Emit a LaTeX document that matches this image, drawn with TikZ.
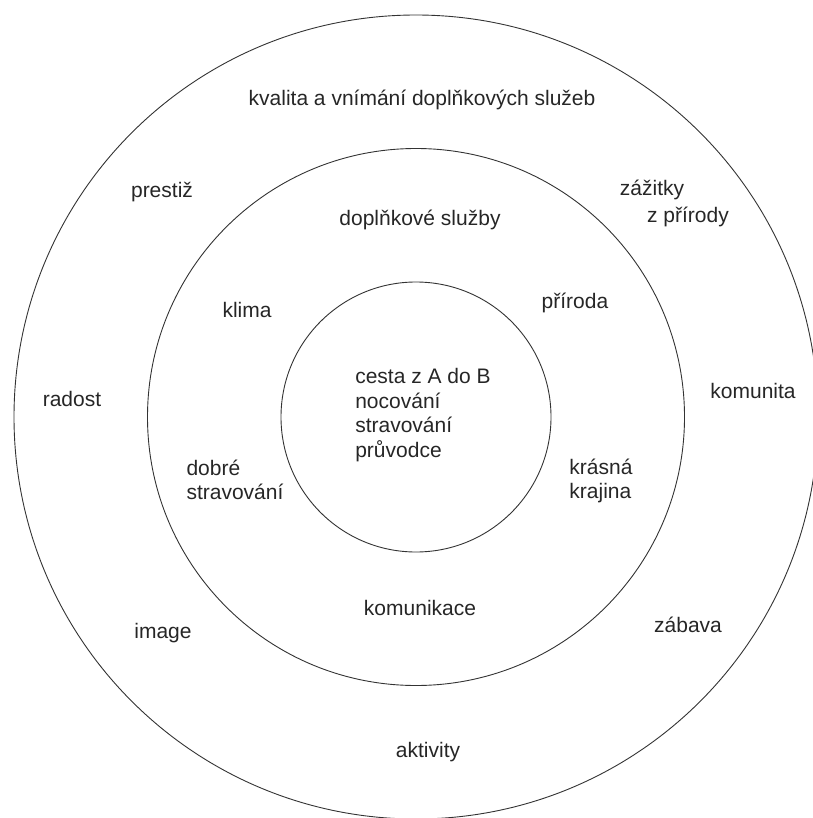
\documentclass[tikz,border=0pt]{standalone}
\usepackage{fontspec}
\setmainfont{Liberation Sans}
\begin{document}
\begin{tikzpicture}[x=1pt,y=-1pt,
    ring/.style={draw=black!80, line width=0.9pt},
    lbl/.style={text=black!85, inner sep=0pt, font=\fontsize{21}{24.5}\selectfont},
    lbll/.style={lbl, align=left}]
    \useasboundingbox (0,0) rectangle (812,818);

    %circles
    \coordinate (c) at (416,417);
    \draw[ring] (c) circle (402);
    \draw[ring] (c) circle (268.5);
    \draw[ring] (c) circle (135);

    %outer ring
    \node[lbl] (kvalita) at (422,100) {kvalita a vnímání doplňkových služeb};
    \node[lbl] (prestiz) at (162,192) {prestiž};
    \node[lbl] (zazitky) at (652,190) {zážitky};
    \node[lbl] (zprirody) at (688,217) {z přírody};
    \node[lbl] (radost) at (72,399) {radost};
    \node[lbl] (komunita) at (753,391) {komunita};
    \node[lbl] (image) at (163,633) {image};
    \node[lbl] (zabava) at (688,625) {zábava};
    \node[lbl] (aktivity) at (428,752) {aktivity};

    %middle ring
    \node[lbl] (doplnkove) at (420,220) {doplňkové služby};
    \node[lbl] (klima) at (247,310) {klima};
    \node[lbl] (priroda) at (575,303) {příroda};
    \node[lbll] (dobre) at (235,480) {dobré\\stravování};
    \node[lbll] (krajina) at (601,481) {krásná\\krajina};
    \node[lbl] (komunikace) at (420,608) {komunikace};

    %core
    \node[lbll] (jadro) at (423,415) {cesta z A do B\\nocování\\stravování\\průvodce};
\end{tikzpicture}
\end{document}
